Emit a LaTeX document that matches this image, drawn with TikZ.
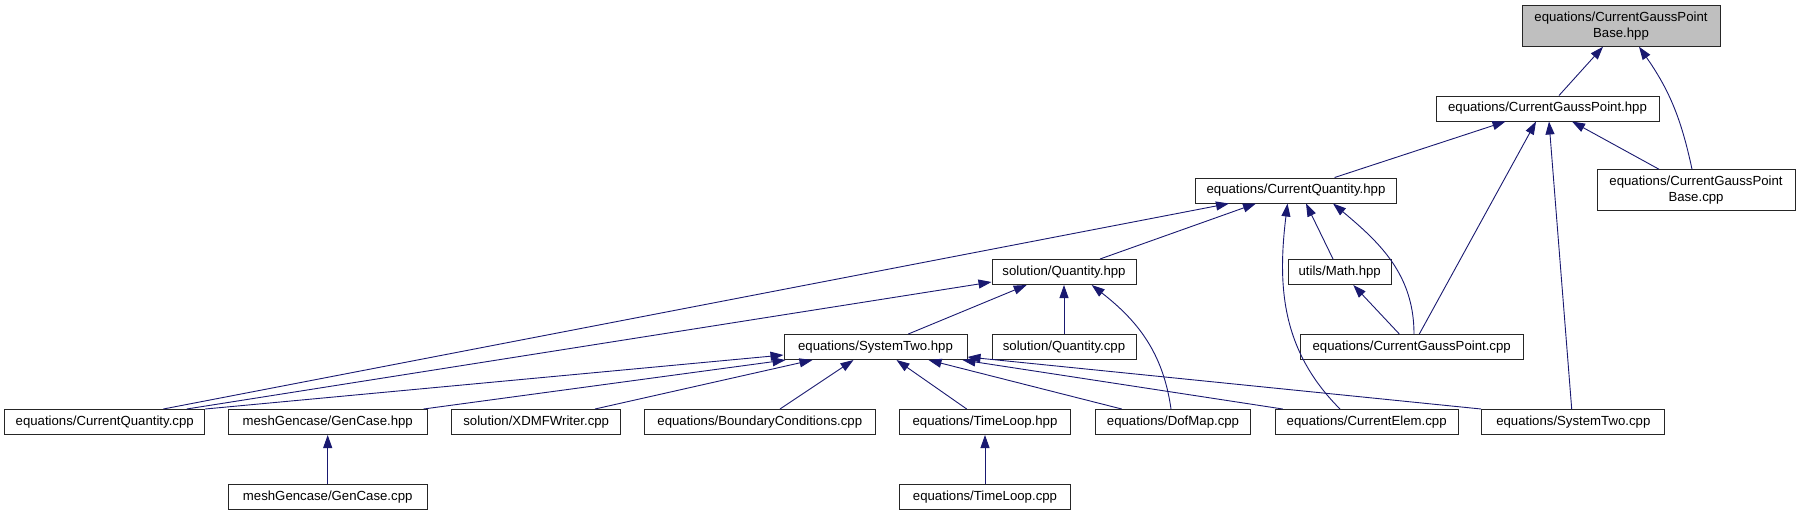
\documentclass[tikz,border=0pt]{standalone}
\usepackage{fontspec}
\setmainfont{Liberation Sans}
\usetikzlibrary{arrows.meta}
\definecolor{depblue}{HTML}{191970}
\definecolor{filegray}{HTML}{BFBFBF}
\tikzset{
	file/.style={draw=black!85, line width=1pt, fill=white, minimum height=25pt, inner sep=0pt, align=center, font=\fontsize{13.2}{15.7}\selectfont},
	twoline/.style={minimum height=40.5pt},
	dep/.style={draw=depblue, line width=0.9pt, -{Triangle[length=13pt,width=9pt]}}
}
\begin{document}
\begin{tikzpicture}[x=1pt,y=1pt]
			\useasboundingbox (0,0) rectangle (1801,-515);
			\node[file,twoline,fill=filegray,minimum width=198pt] (cgpbh) at (1621,-26) {equations/CurrentGaussPoint\\Base.hpp};
			\node[file,minimum width=223pt] (cgph) at (1547.5,-108.5) {equations/CurrentGaussPoint.hpp};
			\node[file,minimum width=201pt] (cqh) at (1296,-190.5) {equations/CurrentQuantity.hpp};
			\node[file,twoline,minimum width=198pt] (cgpbc) at (1696,-190) {equations/CurrentGaussPoint\\Base.cpp};
			\node[file,minimum width=144pt] (qh) at (1064,-272) {solution/Quantity.hpp};
			\node[file,minimum width=103pt] (mathh) at (1339.7,-272) {utils/Math.hpp};
			\node[file,minimum width=183pt] (s2h) at (875.5,-347) {equations/SystemTwo.hpp};
			\node[file,minimum width=144pt] (qc) at (1064,-347) {solution/Quantity.cpp};
			\node[file,minimum width=223pt] (cgpc) at (1411.7,-347) {equations/CurrentGaussPoint.cpp};
			\node[file,minimum width=200pt] (cqc) at (104.7,-422) {equations/CurrentQuantity.cpp};
			\node[file,minimum width=198.7pt] (genh) at (327.7,-422) {meshGencase/GenCase.hpp};
			\node[file,minimum width=169pt] (xdmf) at (536.2,-422) {solution/XDMFWriter.cpp};
			\node[file,minimum width=231pt] (bc) at (759.8,-422) {equations/BoundaryConditions.cpp};
			\node[file,minimum width=171.4pt] (tlh) at (985,-422) {equations/TimeLoop.hpp};
			\node[file,minimum width=155pt] (dofc) at (1173,-422) {equations/DofMap.cpp};
			\node[file,minimum width=183pt] (cec) at (1366.7,-422) {equations/CurrentElem.cpp};
			\node[file,minimum width=183.3pt] (s2c) at (1573.3,-422) {equations/SystemTwo.cpp};
			\node[file,minimum width=198.7pt] (genc) at (327.7,-497) {meshGencase/GenCase.cpp};
			\node[file,minimum width=171.4pt] (tlc) at (985,-497) {equations/TimeLoop.cpp};
			\draw[dep] ([xshift=11.5pt]cgph.north) -- ([xshift=-18pt]cgpbh.south);
			\draw[dep] ([xshift=-4pt]cgpbc.north) to[out=102,in=-55] ([xshift=18pt]cgpbh.south);
			\draw[dep] ([xshift=38.6pt]cqh.north) -- ([xshift=-42pt]cgph.south);
			\draw[dep] ([xshift=7.6pt]cgpc.north) -- ([xshift=-11.5pt]cgph.south);
			\draw[dep] ([xshift=-1.6pt]s2c.north) -- ([xshift=1.5pt]cgph.south);
			\draw[dep] ([xshift=-37pt]cgpbc.north) -- ([xshift=24.5pt]cgph.south);
			\draw[dep] ([xshift=58.6pt]cqc.north) -- ([xshift=-67pt]cqh.south);
			\draw[dep] ([xshift=36pt]qh.north) -- ([xshift=-40pt]cqh.south);
			\draw[dep] ([xshift=-26.7pt]cec.north) to[out=135,in=-97] ([xshift=-8.5pt]cqh.south);
			\draw[dep] ([xshift=-6.7pt]mathh.north) -- ([xshift=10pt]cqh.south);
			\draw[dep] ([xshift=2.3pt]cgpc.north) to[out=90,in=-40] ([xshift=37pt]cqh.south);
			\draw[dep] ([xshift=82pt]cqc.north) -- ([yshift=3pt]qh.south west);
			\draw[dep] ([xshift=32.8pt]s2h.north) -- ([xshift=-37.3pt]qh.south);
			\draw[dep] (qc) -- (qh);
			\draw[dep] ([xshift=-2pt]dofc.north) to[out=98,in=-38] ([xshift=27.7pt]qh.south);
			\draw[dep] ([xshift=-12.4pt]cgpc.north) -- ([xshift=13.6pt]mathh.south);
			\draw[dep] (cqc.north east) -- ([yshift=-8pt]s2h.west);
			\draw[dep] ([xshift=-4pt]genh.north east) -- ([xshift=2pt]s2h.south west);
			\draw[dep] ([xshift=58.8pt]xdmf.north) -- ([xshift=29pt]s2h.south west);
			\draw[dep] ([xshift=20.2pt]bc.north) -- ([xshift=-22pt]s2h.south);
			\draw[dep] ([xshift=-18.3pt]tlh.north) -- ([xshift=21pt]s2h.south);
			\draw[dep] ([xshift=-51.3pt]dofc.north) -- ([xshift=53pt]s2h.south);
			\draw[dep] ([xshift=8pt]cec.north west) -- ([xshift=-5pt]s2h.south east);
			\draw[dep] (s2c.north west) -- ([yshift=3pt]s2h.south east);
			\draw[dep] (genc) -- (genh);
			\draw[dep] (tlc) -- (tlh);
\end{tikzpicture}
\end{document}
